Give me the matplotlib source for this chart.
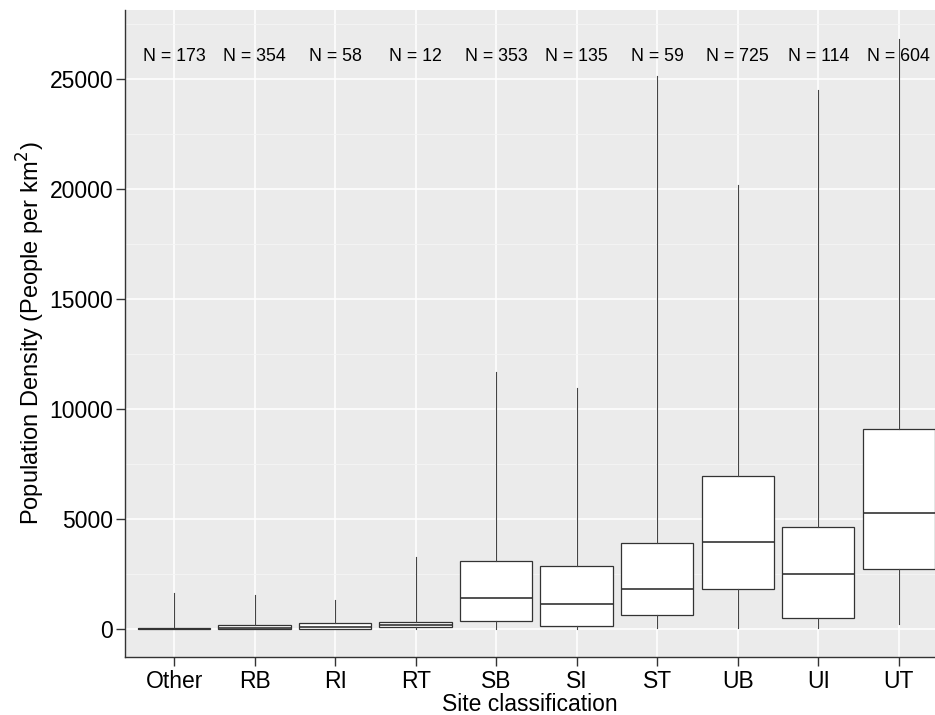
import numpy as np
import matplotlib.pyplot as plt
from matplotlib.ticker import MultipleLocator

plt.rcParams['font.family'] = ['Liberation Sans', 'DejaVu Sans']

# box plot summaries
sites = ['Other', 'RB', 'RI', 'RT', 'SB', 'SI', 'ST', 'UB', 'UI', 'UT']
counts = [173, 354, 58, 12, 353, 135, 59, 725, 114, 604]
whislo = [0, 0, 0, 0, 0, 0, 30, 30, 30, 230]
q1 = [0, 10, 20, 80, 360, 140, 630, 1800, 520, 2740]
med = [10, 50, 110, 160, 1410, 1140, 1820, 3940, 2520, 5270]
q3 = [30, 170, 260, 300, 3090, 2860, 3900, 6940, 4650, 9080]
whishi = [1620, 1550, 1320, 3250, 11680, 10950, 25140, 20180, 24500, 26820]

stats = []
for i in range(len(sites)):
    stats.append(dict(label=sites[i], whislo=whislo[i], q1=q1[i], med=med[i],
                      q3=q3[i], whishi=whishi[i], fliers=[]))

fig = plt.figure(figsize=(9.35, 7.15), dpi=100)
ax = fig.add_axes([125 / 935, 58 / 715, 810 / 935, 647 / 715])
ax.set_facecolor('#EBEBEB')

pos = np.arange(1, len(sites) + 1)
ax.bxp(stats, positions=pos, widths=0.9, patch_artist=True, showcaps=False,
       boxprops=dict(facecolor='white', edgecolor='#333333', linewidth=0.9),
       medianprops=dict(color='#333333', linewidth=1.2),
       whiskerprops=dict(color='#444444', linewidth=0.8),
       zorder=3)

for x, n in zip(pos, counts):
    ax.text(x, 26000, 'N = %d' % n, ha='center', va='center', fontsize=12.8,
            color='black', zorder=4)

ax.set_xlim(0.39, 10.45)
ax.set_ylim(-1273, 28136)
ax.yaxis.set_major_locator(MultipleLocator(5000))
ax.yaxis.set_minor_locator(MultipleLocator(2500))
ax.set_xticks(pos)
ax.set_xticklabels(sites)

ax.grid(which='major', color='white', linewidth=1.1, zorder=0)
ax.grid(which='minor', axis='y', color='#F5F5F5', linewidth=0.6, zorder=0)
ax.set_axisbelow(True)

for s in ['top', 'right']:
    ax.spines[s].set_visible(False)
for s in ['left', 'bottom']:
    ax.spines[s].set_color('#333333')
    ax.spines[s].set_linewidth(1.0)

ax.tick_params(axis='both', which='major', length=6.5, width=1, color='#333333',
               labelsize=16.5, labelcolor='black', pad=2)
ax.tick_params(axis='x', which='major', pad=3)
ax.tick_params(axis='y', which='minor', length=0)

ax.set_xlabel('Site classification', fontsize=16.5, labelpad=0)
ax.set_ylabel('Population Density (People per km$^2$)', fontsize=17, labelpad=2)

fig.savefig('out.png', dpi=100)
